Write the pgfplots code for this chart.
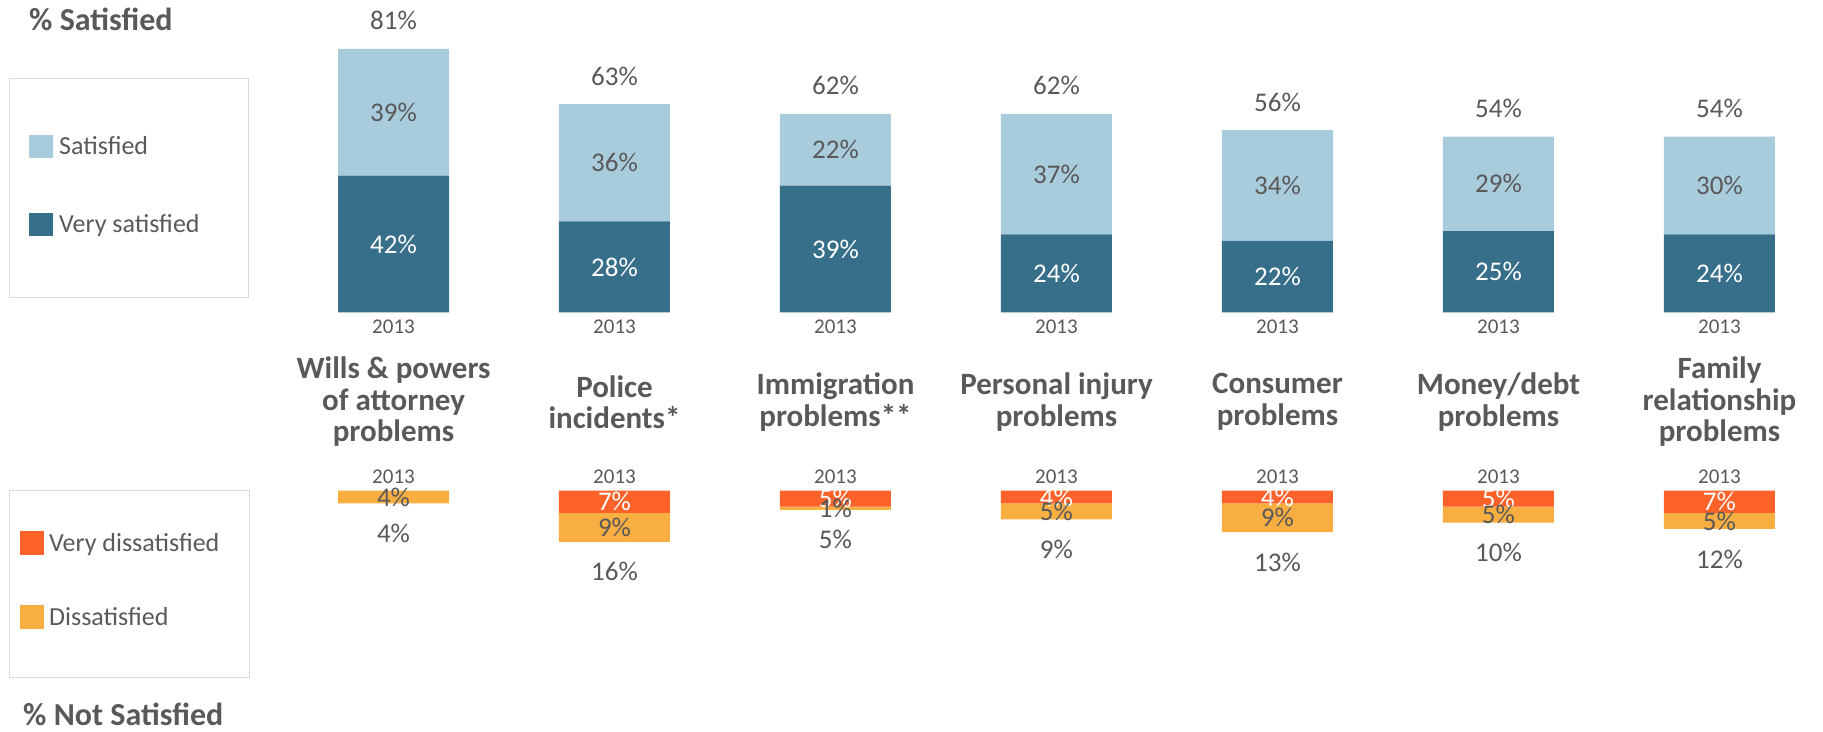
\documentclass[border=0pt]{standalone}
\usepackage{fontspec}
\setmainfont{Carlito}
\usepackage{pgfplots}
\pgfplotsset{compat=1.18}
\usepackage{pgfplotstable}

\definecolor{sat}{HTML}{A9CCDC}
\definecolor{vsat}{HTML}{376F8B}
\definecolor{vdis}{HTML}{FC622A}
\definecolor{dis}{HTML}{F9AE42}
\definecolor{txt}{HTML}{595959}
\definecolor{boxc}{HTML}{D9D9D9}

\newcommand\valfont{\fontsize{27}{32}\selectfont}
\newcommand\yrfont{\fontsize{21}{24}\selectfont}
\newcommand\catfont{\fontsize{31}{31.5}\selectfont\bfseries}
\newcommand\legfont{\fontsize{26}{30}\selectfont}
\newcommand\ttlfont{\fontsize{32}{38}\selectfont\bfseries}

\pgfplotstableread{
x vs s tot
0 42 39 81
1 28 36 63
2 39 22 62
3 24 37 62
4 22 34 56
5 25 29 54
6 24 30 54
}\topdata

\pgfplotstableread{
x vd d tot
0 0 4 4
1 7 9 16
2 5 1 5
3 4 5 9
4 4 9 13
5 5 5 10
6 7 5 12
}\botdata

\pgfplotsset{
  base/.style={scale only axis, width=1524.9pt, xmin=-0.5, xmax=6.4,
    axis line style={draw=none}, tick style={draw=none}, major tick length=0pt,
    ytick=\empty, clip=false, anchor=south west,
    /pgf/number format/assume math mode=true},
  topax/.style={base, height=325.6pt, ymin=0, ymax=100, at={(283pt,418.5pt)}},
  botax/.style={base, height=96pt, ymin=-30, ymax=0, at={(283pt,144.4pt)}},
  lbl/.style={only marks, mark=none, point meta=explicit,
    nodes near coords={\pgfmathprintnumber[fixed,precision=0]{\pgfplotspointmeta}\%},
    every node near coord/.style={anchor=center, font=\valfont, text=#1}},
}

\begin{document}
\begin{tikzpicture}[x=1pt, y=1pt]
\path[use as bounding box] (0,0) rectangle (1823,731);

% ---- top bars
\begin{axis}[topax, ybar stacked, bar width=111pt,
  xtick={0,...,6}, xticklabels={2013,2013,2013,2013,2013,2013,2013},
  xticklabel style={font=\yrfont, text=txt, anchor=center, yshift=-14pt}]
\addplot[fill=vsat, draw=none] table[x=x, y=vs]{\topdata};
\addplot[fill=sat, draw=none] table[x=x, y=s]{\topdata};
\end{axis}
\begin{axis}[topax, xtick=\empty]
\addplot[lbl=white] table[x=x, y expr=\thisrow{vs}/2, meta=vs]{\topdata};
\addplot[lbl=txt] table[x=x, y expr=\thisrow{vs}+\thisrow{s}/2, meta=s]{\topdata};
\addplot[lbl=txt, every node near coord/.append style={yshift=28pt}]
  table[x=x, y expr=\thisrow{vs}+\thisrow{s}, meta=tot]{\topdata};
\end{axis}

% ---- bottom bars
\begin{axis}[botax, ybar stacked, bar width=111pt,
  xtick={0,...,6}, xticklabels={2013,2013,2013,2013,2013,2013,2013},
  xticklabel pos=upper,
  xticklabel style={font=\yrfont, text=txt, anchor=center, yshift=14pt}]
\addplot[fill=vdis, draw=none] table[x=x, y expr=-\thisrow{vd}]{\botdata};
\addplot[fill=dis, draw=none] table[x=x, y expr=-\thisrow{d}]{\botdata};
\end{axis}
\begin{axis}[botax, xtick=\empty]
\addplot[lbl=white, unbounded coords=discard, y filter/.expression={y==0 ? nan : y}]
  table[x=x, y expr=-\thisrow{vd}/2, meta=vd]{\botdata};
\addplot[lbl=txt] table[x=x, y expr=-\thisrow{vd}-\thisrow{d}/2, meta=d]{\botdata};
\addplot[lbl=txt, every node near coord/.append style={yshift=-30pt}]
  table[x=x, y expr=-\thisrow{vd}-\thisrow{d}, meta=tot]{\botdata};
\end{axis}

% ---- category labels
\foreach \lab [count=\i from 0] in {{Wills \& powers\\of attorney\\problems},{Police\\incidents*},{Immigration\\problems**},{Personal injury\\problems},{Consumer\\problems},{Money/debt\\problems},{Family\\relationship\\problems}}
  \node[align=center, font=\catfont, text=txt, inner sep=0pt] at ({393.5+221*\i},329) {\lab};

% ---- titles
\node[anchor=base west, inner sep=0pt, font=\ttlfont, text=txt] at (29,700) {\% Satisfied};
\node[anchor=base west, inner sep=0pt, font=\ttlfont, text=txt] at (23,6) {\% Not Satisfied};

% ---- top legend
\draw[boxc, line width=1pt] (9,433) rectangle (248,652);
\fill[sat] (29,573) rectangle (53,596);
\node[anchor=base west, inner sep=0pt, font=\legfont, text=txt] at (59,576) {Satisfied};
\fill[vsat] (29,495) rectangle (53,518);
\node[anchor=base west, inner sep=0pt, font=\legfont, text=txt] at (59,498) {Very satisfied};

% ---- bottom legend
\draw[boxc, line width=1pt] (9,54) rectangle (249,240);
\fill[vdis] (20,176) rectangle (44,200);
\node[anchor=base west, inner sep=0pt, font=\legfont, text=txt] at (49,179) {Very dissatisfied};
\fill[dis] (20,102) rectangle (44,126);
\node[anchor=base west, inner sep=0pt, font=\legfont, text=txt] at (49,105) {Dissatisfied};
\end{tikzpicture}
\end{document}
